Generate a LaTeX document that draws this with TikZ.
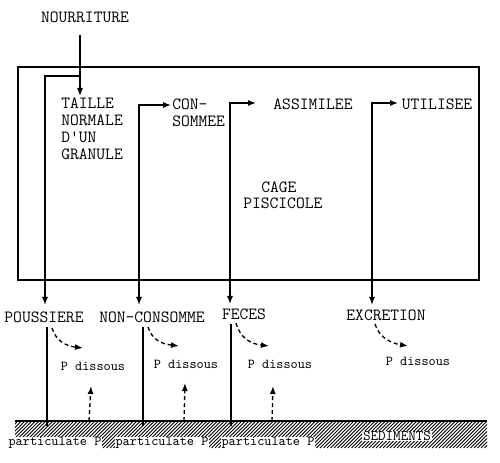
\documentclass[tikz,border=0pt]{standalone}
\usetikzlibrary{arrows.meta}
\begin{document}
\begin{tikzpicture}[x=0.75pt,y=-0.75pt,
  lab/.style={font=\ttfamily\fontsize{12.8}{12.75}\selectfont, inner sep=0pt},
  low/.style={font=\ttfamily\fontsize{10.2}{12}\selectfont, inner sep=0pt},
  sed/.style={font=\ttfamily\fontsize{11}{12}\selectfont, inner sep=0.6pt, fill=white},
  ln/.style={line width=0.9pt},
  arr/.style={line width=0.9pt,-{Latex[length=6pt,width=4.5pt]}},
  arrb/.style={line width=0.9pt,{Latex[length=6pt,width=4.5pt]}-{Latex[length=6pt,width=4.5pt]}},
  dsh/.style={line width=1pt,dash pattern=on 3pt off 2.2pt,-{Latex[length=6pt,width=4.5pt]}},
  hatch/.style={line width=0.75pt},
  ]
\useasboundingbox (0,0) rectangle (500,463);

% cage box
\coordinate (boxnw) at (18,67);
\coordinate (boxse) at (479,280);
\draw[ln] (boxnw) rectangle (boxse);

% top labels
\node[lab] (nour) at (85,17) {NOURRITURE};
\node[lab, anchor=north west, align=left] (taille) at (61,98) {TAILLE\\NORMALE\\D'UN\\GRANULE};
\node[lab, anchor=north west, align=left] (conso) at (172,99) {CON-\\SOMMEE};
\node[lab] (assim) at (313,104) {ASSIMILEE};
\node[lab] (util) at (437,104) {UTILISEE};
\node[lab, anchor=west] (cage) at (261,187) {CAGE};
\node[lab, anchor=west] (pisci) at (243,203) {PISCICOLE};

% lower labels
\node[lab] (pous) at (44,317) {POUSSIERE};
\node[lab] (nonc) at (152,317) {NON-CONSOMME};
\node[lab] (feces) at (244,314) {FECES};
\node[lab] (excr) at (386,315) {EXCRETION};

\node[low] (pd1) at (93,366) {P dissous};
\node[low] (pd2) at (186,364) {P dissous};
\node[low] (pd3) at (280,364) {P dissous};
\node[low] (pd4) at (418,361) {P dissous};

% input arrow
\coordinate (nstart) at (80,35);
\coordinate (ntip) at (80,96);
\draw[arr] (nstart) -- (ntip);

% flows
\coordinate (j1) at (80,76);
\coordinate (t1) at (45,305);
\draw[arr] (j1) -| (t1);

\coordinate (a2) at (171,105);
\coordinate (t2) at (139,305);
\draw[arrb] (a2) -| (t2);

\coordinate (a3) at (256,103);
\coordinate (t3) at (230,304);
\draw[arrb] (a3) -| (t3);

\coordinate (a4) at (398,103);
\coordinate (t4) at (372,305);
\draw[arrb] (a4) -| (t4);

% sediments
\coordinate (gl) at (15,421);
\coordinate (gr) at (487,421);
\coordinate (gb) at (487,448);
\begin{scope}
\clip (gl) rectangle (gb);
\foreach \i in {-30,-26.5,...,500} {
  \draw[hatch] (\i,448) -- (\i+27,421);
}
\end{scope}
\draw[line width=1.8pt] (gl) -- (gr);

\node[low, fill=white, inner sep=0.6pt] (pp1) at (55,443) {particulate P};
\node[low, fill=white, inner sep=0.6pt] (pp2) at (162,443) {particulate P};
\node[low, fill=white, inner sep=0.6pt] (pp3) at (268,443) {particulate P};
\node[sed] (sedi) at (397,436) {SEDIMENTS};

% settling lines
\coordinate (s1a) at (47,327); \coordinate (s1b) at (47,426);
\coordinate (s2a) at (143,327); \coordinate (s2b) at (143,426);
\coordinate (s3a) at (231,324); \coordinate (s3b) at (231,426);
\draw[ln] (s1a) -- (s1b);
\draw[ln] (s2a) -- (s2b);
\draw[ln] (s3a) -- (s3b);

% dissolution (dashed curves)
\coordinate (d1a) at (52,328); \coordinate (d1b) at (83,348);
\coordinate (d2a) at (148,327); \coordinate (d2b) at (179,346);
\coordinate (d3a) at (236,323); \coordinate (d3b) at (269,346);
\coordinate (d4a) at (375,324); \coordinate (d4b) at (408,346);
\draw[dsh] (d1a) .. controls (56,341) and (66,346) .. (d1b);
\draw[dsh] (d2a) .. controls (152,340) and (162,344) .. (d2b);
\draw[dsh] (d3a) .. controls (240,338) and (251,344) .. (d3b);
\draw[dsh] (d4a) .. controls (379,337) and (390,343) .. (d4b);

% release from sediment (dashed up arrows)
\coordinate (u1a) at (89,421); \coordinate (u1b) at (91,386);
\coordinate (u2a) at (184,421); \coordinate (u2b) at (185,383);
\coordinate (u3a) at (272,421); \coordinate (u3b) at (273,386);
\draw[dsh] (u1a) -- (u1b);
\draw[dsh] (u2a) -- (u2b);
\draw[dsh] (u3a) -- (u3b);
\end{tikzpicture}
\end{document}
